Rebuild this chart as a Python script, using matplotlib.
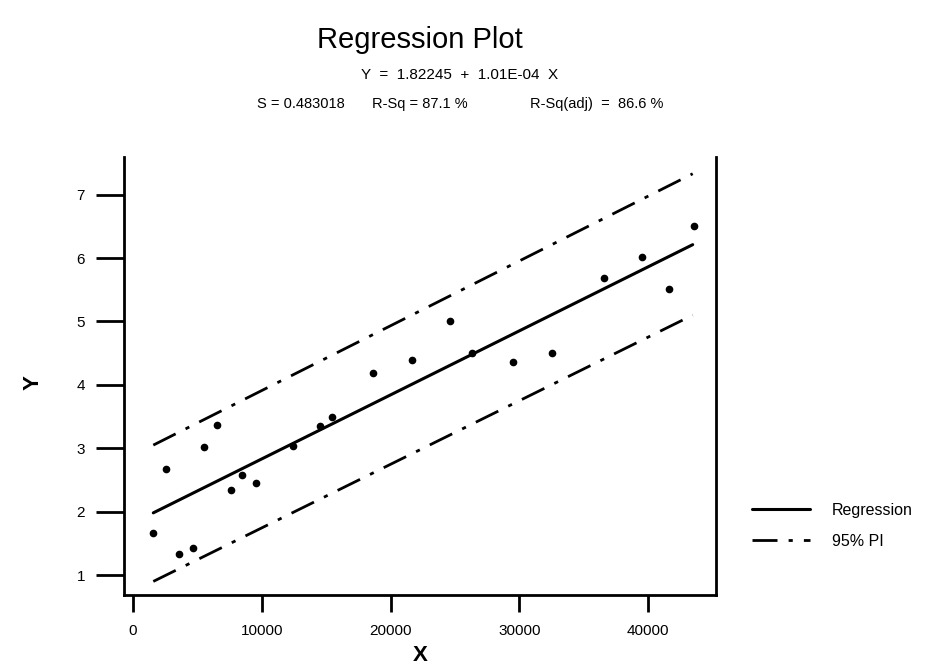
import numpy as np
import matplotlib
matplotlib.use('Agg')
import matplotlib.pyplot as plt

plt.rcParams['font.family'] = ['Liberation Sans', 'DejaVu Sans']

# data
x_pts = [1576, 2562, 3595, 4635, 5536, 6545, 7609, 8439, 9550, 12446, 14519,
         15474, 18610, 21638, 24612, 26297, 29526, 32508, 36592, 39495, 41638, 43579]
y_pts = [1.67, 2.68, 1.33, 1.43, 3.02, 3.37, 2.34, 2.58, 2.45, 3.03, 3.35,
         3.50, 4.19, 4.40, 5.01, 4.51, 4.36, 4.51, 5.69, 6.01, 5.51, 6.51]

intercept = 1.82245
slope = 1.01e-04
line_x = [1576, 43455]
pi_upper = [3.05, 7.33]
pi_lower = [0.90, 5.10]

title_txt = 'Regression Plot'
eq_txt = 'Y  =  1.82245  +  1.01E-04  X'
stats_txt = ['S = 0.483018', 'R-Sq = 87.1 %', 'R-Sq(adj)  =  86.6 %']
stats_left = [257, 372, 530]   # pixel x where each piece starts
x_ticks = [0, 10000, 20000, 30000, 40000]
y_ticks = [1, 2, 3, 4, 5, 6, 7]

fig = plt.figure(figsize=(9.35, 6.7), dpi=100)
ax = fig.add_axes([124/935, 1 - 595/670, (716-124)/935, (595-157)/670])

reg_y = [intercept + slope*v for v in line_x]
ax.plot(line_x, reg_y, color='black', lw=2.2, solid_capstyle='round', label='Regression')
dashdot = (0, (9, 4, 1.5, 4))
ax.plot(line_x, pi_upper, color='black', lw=2.0, linestyle=dashdot, label='95% PI')
ax.plot(line_x, pi_lower, color='black', lw=2.0, linestyle=dashdot)
ax.plot(x_pts, y_pts, 'o', color='black', ms=4.5, zorder=5)

ax.set_xlim(-699, 45264)
ax.set_ylim(0.686, 7.594)
ax.set_xticks(x_ticks)
ax.set_xticklabels([str(v) for v in x_ticks])
ax.set_yticks(y_ticks)
ax.set_yticklabels([str(v) for v in y_ticks])

ax.spines['top'].set_visible(False)
for s in ['left', 'right', 'bottom']:
    ax.spines[s].set_linewidth(2)
ax.tick_params(axis='y', which='major', direction='out', length=20, width=2,
               pad=8, labelsize=11)
ax.tick_params(axis='x', which='major', direction='out', length=12, width=2,
               pad=9, labelsize=11)
ax.set_xlabel('X', fontsize=16, fontweight='bold')
ax.set_ylabel('Y', fontsize=16, fontweight='bold')
ax.xaxis.set_label_coords(0.5, -(645 - 595) / 438)
ax.yaxis.set_label_coords(-(124 - 44) / 592, (595 - 383) / 438)

fig.text(420/935, 1 - 40/670, title_txt, ha='center', va='center', fontsize=21)
fig.text(460/935, 1 - 75/670, eq_txt, ha='center', va='center', fontsize=11)
for txt, px in zip(stats_txt, stats_left):
    fig.text(px/935, 1 - 104/670, txt, ha='left', va='center', fontsize=10.5)

# legend at the right side
h, l = ax.get_legend_handles_labels()
fig.legend(h, l, loc='center left', bbox_to_anchor=(738/935, 1 - 526/670),
           frameon=False, fontsize=11.5, handlelength=3.6, handletextpad=1.4,
           labelspacing=1.0)

plt.savefig('out.png', dpi=100)
